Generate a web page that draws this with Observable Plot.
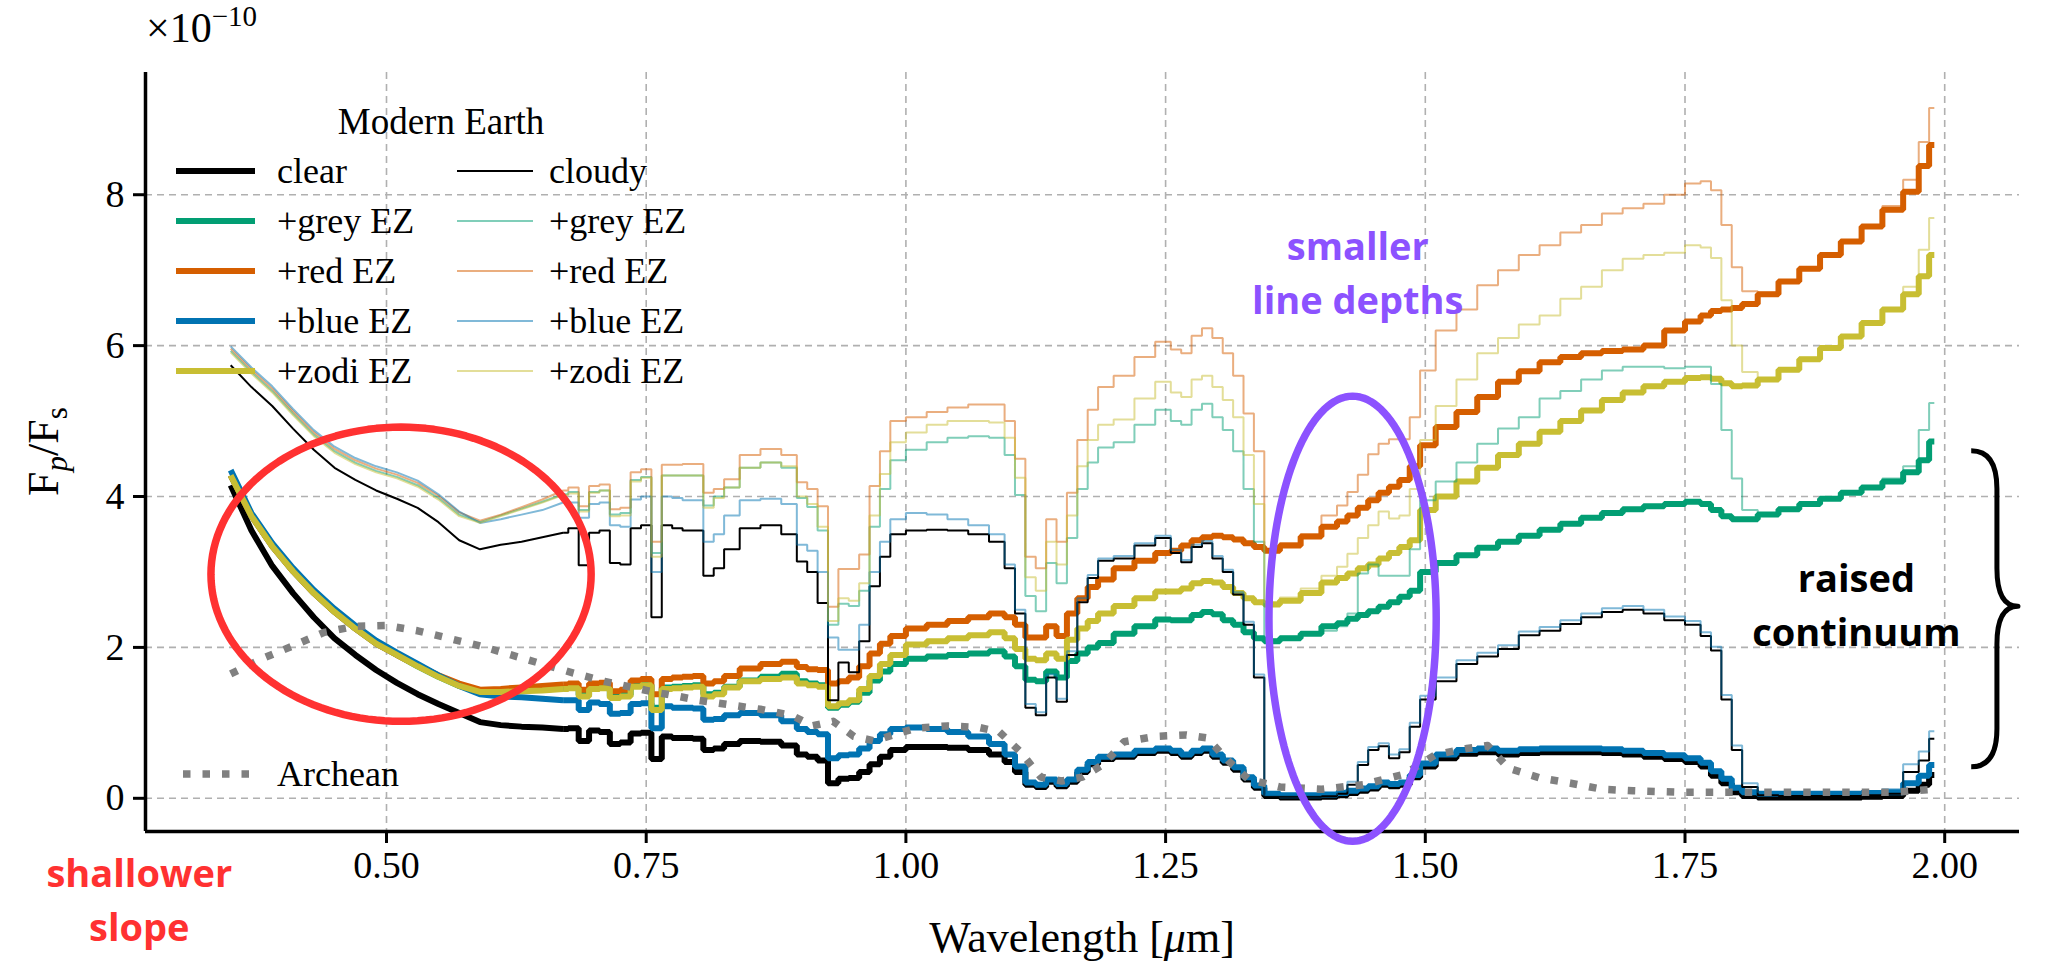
<!DOCTYPE html>
<html>
<head>
<meta charset="utf-8">
<script src="https://cdn.jsdelivr.net/npm/d3@7"></script>
<script src="https://cdn.jsdelivr.net/npm/@observablehq/plot@0.6"></script>
<style>
  html, body { margin: 0; padding: 0; background: #fff; }
  #chart svg [aria-label^="x-axis"] line, #chart svg [aria-label^="x-axis"] path,
  #chart svg [aria-label^="y-axis"] line, #chart svg [aria-label^="y-axis"] path { stroke: #000; stroke-width: 3px; }
</style>
</head>
<body>
<div id="chart"></div>
<script>
// ---------- data, Fp/Fs in units of 1e-10 ----------
const wavelength = [0.35,0.37,0.39,0.41,0.43,0.45,0.47,0.49,0.51,0.53,0.55,0.57,0.59,0.61,0.63,0.65,0.67,
0.68,0.69,0.70,0.71,0.72,0.73,0.74,0.75,0.76,0.77,0.78,0.79,0.80,0.81,0.82,0.83,
0.85,0.87,0.89,0.90,0.91,0.92,0.93,0.94,0.95,0.96,0.97,0.98,0.99,
1.01,1.03,1.05,1.07,1.09,1.10,1.11,1.12,1.13,1.14,1.15,1.16,1.17,1.18,1.19,
1.21,1.23,1.25,1.26,1.27,1.28,1.29,1.30,1.31,1.32,1.33,1.34,1.35,
1.37,1.39,1.41,1.42,1.43,1.44,1.45,1.46,1.47,1.48,1.49,1.50,
1.52,1.54,1.56,1.58,1.60,1.62,1.64,1.66,1.68,1.70,1.72,1.74,1.76,
1.77,1.78,1.79,1.80,1.81,1.83,1.85,1.87,1.89,1.91,1.93,1.95,1.97,1.98,1.99];

const clearBlack = [4.15,3.55,3.08,2.72,2.40,2.12,1.90,1.70,1.53,1.38,1.25,1.13,1.01,0.97,0.95,0.94,0.92,
0.93,0.76,0.90,0.88,0.72,0.74,0.86,0.87,0.52,0.82,0.80,0.80,0.79,0.64,0.66,0.72,
0.76,0.75,0.70,0.58,0.55,0.50,0.20,0.26,0.27,0.35,0.45,0.55,0.64,
0.68,0.68,0.67,0.64,0.58,0.48,0.35,0.18,0.15,0.22,0.16,0.22,0.35,0.45,0.52,
0.55,0.60,0.63,0.60,0.55,0.60,0.63,0.55,0.47,0.38,0.25,0.14,0.03,
0.01,0.01,0.02,0.04,0.07,0.10,0.13,0.18,0.16,0.18,0.28,0.42,
0.53,0.59,0.61,0.58,0.60,0.61,0.61,0.61,0.60,0.58,0.55,0.52,0.48,
0.42,0.30,0.20,0.08,0.03,0.01,0.01,0.01,0.01,0.01,0.02,0.03,0.10,0.18,0.31];

const clearGrey = [4.28,3.74,3.34,3.01,2.72,2.47,2.25,2.05,1.90,1.75,1.61,1.49,1.41,1.41,1.43,1.44,1.46,
1.47,1.37,1.46,1.47,1.35,1.37,1.49,1.51,1.20,1.47,1.48,1.49,1.50,1.38,1.40,1.48,
1.56,1.61,1.65,1.55,1.52,1.50,1.20,1.24,1.28,1.40,1.56,1.68,1.78,
1.85,1.88,1.90,1.92,1.95,1.88,1.75,1.57,1.55,1.68,1.60,1.82,1.92,2.00,2.06,
2.18,2.28,2.37,2.36,2.36,2.43,2.47,2.44,2.36,2.30,2.20,2.12,2.08,
2.12,2.18,2.28,2.32,2.38,2.43,2.48,2.54,2.60,2.67,2.75,3.00,
3.12,3.22,3.32,3.40,3.48,3.56,3.64,3.72,3.78,3.83,3.87,3.90,3.93,
3.90,3.82,3.74,3.70,3.70,3.76,3.83,3.90,3.97,4.05,4.12,4.20,4.32,4.48,4.73];

const clearRed = [4.28,3.74,3.34,3.01,2.72,2.47,2.25,2.05,1.90,1.76,1.63,1.52,1.44,1.45,1.47,1.49,1.51,
1.52,1.44,1.52,1.53,1.42,1.44,1.56,1.58,1.38,1.58,1.60,1.61,1.62,1.52,1.55,1.62,
1.72,1.78,1.81,1.74,1.71,1.70,1.52,1.55,1.60,1.75,1.92,2.05,2.15,
2.25,2.30,2.35,2.40,2.45,2.40,2.30,2.13,2.13,2.28,2.15,2.45,2.65,2.80,2.90,
3.05,3.15,3.25,3.28,3.35,3.42,3.46,3.48,3.46,3.43,3.38,3.33,3.28,
3.35,3.47,3.60,3.67,3.75,3.85,3.95,4.05,4.13,4.22,4.40,4.68,
4.92,5.12,5.32,5.52,5.66,5.78,5.85,5.90,5.93,5.95,6.00,6.20,6.32,
6.40,6.46,6.48,6.50,6.55,6.68,6.85,7.02,7.20,7.38,7.58,7.80,8.04,8.38,8.66];

const clearBlue = [4.35,3.78,3.38,3.05,2.76,2.51,2.29,2.09,1.93,1.78,1.63,1.49,1.38,1.35,1.34,1.32,1.30,
1.30,1.17,1.27,1.25,1.12,1.13,1.25,1.26,0.93,1.22,1.20,1.20,1.19,1.04,1.05,1.10,
1.13,1.10,1.02,0.92,0.88,0.85,0.53,0.57,0.58,0.66,0.76,0.85,0.92,
0.94,0.92,0.88,0.82,0.72,0.58,0.42,0.21,0.18,0.25,0.19,0.25,0.38,0.48,0.55,
0.58,0.63,0.66,0.63,0.58,0.63,0.66,0.58,0.50,0.41,0.28,0.17,0.06,
0.04,0.04,0.05,0.07,0.10,0.13,0.16,0.21,0.19,0.21,0.31,0.46,
0.58,0.64,0.66,0.63,0.65,0.66,0.66,0.66,0.65,0.63,0.60,0.57,0.53,
0.47,0.36,0.26,0.14,0.08,0.06,0.06,0.06,0.06,0.06,0.07,0.08,0.20,0.30,0.44];

const clearZodi = [4.28,3.74,3.34,3.01,2.72,2.47,2.25,2.05,1.90,1.75,1.61,1.49,1.41,1.41,1.42,1.43,1.45,
1.46,1.35,1.45,1.46,1.33,1.35,1.48,1.50,1.17,1.45,1.46,1.47,1.48,1.35,1.38,1.47,
1.55,1.58,1.60,1.52,1.50,1.48,1.22,1.26,1.30,1.45,1.62,1.78,1.90,
2.04,2.08,2.12,2.16,2.20,2.12,1.98,1.85,1.83,1.92,1.85,2.10,2.25,2.35,2.45,
2.55,2.65,2.74,2.74,2.78,2.85,2.88,2.86,2.80,2.72,2.65,2.60,2.57,
2.62,2.72,2.86,2.92,2.98,3.05,3.10,3.18,3.25,3.33,3.42,3.82,
4.00,4.20,4.38,4.55,4.70,4.86,5.00,5.14,5.28,5.38,5.46,5.52,5.57,
5.58,5.56,5.50,5.46,5.47,5.55,5.68,5.82,5.97,6.12,6.30,6.48,6.68,6.92,7.20];

const cloudyBlack = [5.74,5.45,5.20,4.90,4.62,4.38,4.22,4.08,3.97,3.85,3.66,3.42,3.30,3.36,3.40,3.46,3.52,
3.58,3.09,3.52,3.55,3.12,3.10,3.58,3.62,2.40,3.62,3.58,3.55,3.55,2.95,3.05,3.30,
3.58,3.62,3.50,3.14,3.00,2.59,1.30,1.80,1.67,2.08,2.81,3.20,3.50,
3.55,3.56,3.55,3.50,3.40,3.05,2.45,1.20,1.10,1.60,1.28,1.90,2.60,2.92,3.15,
3.18,3.35,3.45,3.25,3.13,3.33,3.38,3.18,3.00,2.70,2.30,1.60,0.02,
0.02,0.02,0.03,0.06,0.18,0.44,0.64,0.69,0.53,0.61,0.95,1.31,
1.55,1.78,1.88,1.98,2.16,2.22,2.31,2.40,2.47,2.50,2.45,2.36,2.30,
2.15,1.96,1.31,0.64,0.15,0.04,0.03,0.03,0.03,0.03,0.04,0.06,0.35,0.50,0.79];

const cloudyGrey = [5.93,5.65,5.40,5.10,4.82,4.60,4.45,4.34,4.26,4.15,3.98,3.76,3.66,3.75,3.84,3.93,4.03,
4.06,3.82,4.06,4.08,3.76,3.78,4.22,4.26,3.25,4.28,4.28,4.28,4.28,3.88,4.00,4.12,
4.38,4.45,4.38,3.98,3.86,3.55,2.30,2.58,2.55,2.75,3.60,4.10,4.48,
4.62,4.72,4.78,4.80,4.78,4.55,4.02,2.68,2.48,3.12,2.85,3.45,4.10,4.45,4.65,
4.72,4.95,5.15,5.00,4.95,5.15,5.23,5.05,4.88,4.60,4.10,3.40,2.10,
2.14,2.20,2.22,2.28,2.45,2.98,3.10,2.95,2.95,2.95,3.30,3.95,
4.20,4.45,4.70,4.90,5.05,5.30,5.40,5.55,5.67,5.72,5.72,5.70,5.72,
5.72,5.49,4.88,4.24,3.82,3.78,3.85,3.92,3.99,4.07,4.14,4.24,4.40,4.88,5.24];

const cloudyRed = [5.96,5.68,5.43,5.13,4.85,4.63,4.48,4.37,4.29,4.18,4.01,3.79,3.68,3.76,3.86,3.96,4.08,
4.12,3.87,4.14,4.16,3.83,3.85,4.32,4.36,3.40,4.42,4.42,4.43,4.43,4.05,4.10,4.23,
4.55,4.63,4.55,4.19,4.10,3.87,2.54,3.04,3.04,3.23,4.14,4.60,5.00,
5.05,5.12,5.18,5.22,5.22,5.00,4.50,3.20,3.05,3.70,3.40,4.05,4.75,5.15,5.45,
5.60,5.85,6.05,5.95,5.90,6.13,6.23,6.10,5.90,5.60,5.10,4.60,3.30,
3.38,3.50,3.75,3.88,4.06,4.29,4.56,4.70,4.76,4.76,5.05,5.67,
6.20,6.48,6.80,7.00,7.20,7.33,7.50,7.60,7.75,7.82,7.88,8.00,8.15,
8.18,8.06,7.60,7.04,6.72,6.70,6.87,7.04,7.22,7.40,7.60,7.85,8.20,8.70,9.15];

const cloudyBlue = [5.99,5.71,5.46,5.16,4.88,4.66,4.51,4.40,4.32,4.21,4.03,3.80,3.65,3.70,3.76,3.82,3.92,
3.92,3.72,3.90,3.92,3.62,3.60,3.96,4.00,3.00,4.00,3.98,3.95,3.95,3.40,3.50,3.75,
3.95,3.97,3.90,3.36,3.28,3.00,2.13,1.97,1.97,2.30,3.00,3.40,3.70,
3.78,3.76,3.70,3.62,3.50,3.10,2.50,1.25,1.14,1.64,1.32,1.95,2.65,2.96,3.18,
3.21,3.38,3.48,3.29,3.16,3.36,3.41,3.21,3.03,2.73,2.34,1.64,0.04,
0.04,0.04,0.05,0.10,0.22,0.48,0.68,0.73,0.58,0.65,1.00,1.36,
1.60,1.83,1.93,2.03,2.21,2.27,2.36,2.45,2.52,2.55,2.50,2.41,2.35,
2.20,2.01,1.37,0.70,0.20,0.08,0.07,0.07,0.07,0.07,0.08,0.12,0.45,0.62,0.89];

const cloudyZodi = [5.91,5.63,5.38,5.08,4.80,4.58,4.43,4.32,4.24,4.13,3.96,3.74,3.65,3.74,3.83,3.92,4.02,
4.04,3.80,4.05,4.08,3.74,3.75,4.20,4.25,3.20,4.28,4.28,4.28,4.28,3.85,3.98,4.12,
4.38,4.45,4.40,4.00,3.90,3.60,2.35,2.65,2.62,2.85,3.75,4.30,4.72,
4.85,4.95,5.00,5.00,4.98,4.78,4.25,2.93,2.75,3.40,3.10,3.75,4.40,4.75,4.95,
5.02,5.30,5.52,5.38,5.32,5.55,5.60,5.45,5.28,5.05,4.55,3.90,2.60,
2.66,2.78,2.95,3.07,3.24,3.45,3.62,3.80,3.71,3.75,4.10,4.75,
5.20,5.55,5.90,6.10,6.28,6.40,6.62,6.78,7.00,7.15,7.20,7.23,7.33,
7.30,7.16,6.60,6.00,5.65,5.57,5.70,5.84,5.99,6.14,6.32,6.50,6.78,7.27,7.69];

const archeanWavelength = [0.35,0.38,0.41,0.44,0.47,0.50,0.53,0.56,0.59,0.62,0.65,0.68,0.71,0.74,0.76,0.77,0.80,0.83,0.86,0.89,0.91,0.93,0.95,0.97,0.99,1.01,1.04,1.07,1.09,1.11,1.13,1.15,1.17,1.19,1.21,1.24,1.27,1.29,1.31,1.33,1.36,1.40,1.44,1.48,1.51,1.54,1.56,1.58,1.61,1.64,1.67,1.70,1.75,1.80,1.85,1.90,1.95,1.99];
const archeanFlux = [1.65,1.85,2.02,2.20,2.28,2.29,2.22,2.12,2.02,1.90,1.78,1.66,1.55,1.46,1.40,1.38,1.30,1.24,1.18,1.10,0.96,1.02,0.82,0.76,0.85,0.93,0.96,0.94,0.88,0.62,0.28,0.23,0.28,0.45,0.75,0.82,0.84,0.80,0.50,0.25,0.15,0.12,0.18,0.32,0.58,0.66,0.70,0.40,0.27,0.20,0.12,0.10,0.08,0.08,0.08,0.08,0.08,0.12];

const xTicks = [0.50, 0.75, 1.00, 1.25, 1.50, 1.75, 2.00];
const yTicks = [0, 2, 4, 6, 8];
const xDomain = [0.268, 2.072];
const yDomain = [-0.44, 9.62];
const smoothUpTo = 0.67;   // blue continuum drawn smooth, absorption region drawn as spectral bins

const legendTitle = "Modern Earth";
const clearSeries = [
  {label: "clear",    values: clearBlack, color: "#000000"},
  {label: "+grey EZ", values: clearGrey,  color: "#029e73"},
  {label: "+red EZ",  values: clearRed,   color: "#d55e00"},
  {label: "+blue EZ", values: clearBlue,  color: "#0173b2"},
  {label: "+zodi EZ", values: clearZodi,  color: "#c8be33"}
];
const cloudySeries = [
  {label: "cloudy",   values: cloudyBlack, color: "#000000", opacity: 1},
  {label: "+grey EZ", values: cloudyGrey,  color: "#029e73", opacity: 0.5},
  {label: "+red EZ",  values: cloudyRed,   color: "#d55e00", opacity: 0.5},
  {label: "+blue EZ", values: cloudyBlue,  color: "#0173b2", opacity: 0.5},
  {label: "+zodi EZ", values: cloudyZodi,  color: "#c8be33", opacity: 0.5}
];
const archeanLabel = "Archean";
const archeanColor = "#808080";

// annotations (in data coordinates)
const annotationTexts = [
  {x: 0.262, y: -1.31, text: "shallower\nslope", color: "#ff3131"},
  {x: 1.435, y: 7.00, text: "smaller\nline depths", color: "#8c52ff"},
  {x: 1.915, y: 2.61, text: "raised\ncontinuum", color: "#000000"}
];
const annotationEllipses = [
  {cx: 0.514, cy: 2.97, rx: 0.183, ry: 1.95, color: "#ff3131"},
  {cx: 1.430, cy: 2.38, rx: 0.0805, ry: 2.95, color: "#8c52ff"}
];
const brace = {x0: 2.026, x1: 2.071, yTop: 4.60, yBottom: 0.41, yMid: 2.54};

// ---------- drawing ----------
const SERIF = "'Liberation Serif', 'Times New Roman', serif";
const SANS = "'Open Sans', 'Noto Sans', sans-serif";
const THICK = 6, THIN = 2;

const toRows = vals => wavelength.map((w, i) => ({w, f: vals[i]}));
const smoothPart = vals => toRows(vals).filter(d => d.w <= smoothUpTo);
const binnedPart = vals => toRows(vals).filter(d => d.w >= smoothUpTo);
const archeanRows = archeanWavelength.map((w, i) => ({w, f: archeanFlux[i]}));
const ellipseRows = e => d3.range(0, 145).map(k => {
  const t = 2 * Math.PI * k / 144;
  return {x: e.cx + e.rx * Math.cos(t), y: e.cy + e.ry * Math.sin(t)};
});

function spectrumMarks(s, width, opacity) {
  const opts = {x: "w", y: "f", stroke: s.color, strokeOpacity: opacity, strokeWidth: width, strokeLinejoin: "miter", strokeLinecap: "butt"};
  return [
    Plot.line(smoothPart(s.values), {...opts, curve: "linear"}),
    Plot.line(binnedPart(s.values), {...opts, curve: "step"})
  ];
}

function braceMark(index, scales) {
  const xs = scales.x(brace.x0), xt = scales.x(brace.x1);
  const xsp = xs + 0.55 * (xt - xs);
  const yt = scales.y(brace.yTop), yb = scales.y(brace.yBottom), ym = scales.y(brace.yMid);
  const r = 38;
  const p = `M${xs},${yt} Q${xsp},${yt} ${xsp},${yt + r} L${xsp},${ym - r} Q${xsp},${ym} ${xt},${ym}` +
            ` Q${xsp},${ym} ${xsp},${ym + r} L${xsp},${yb - r} Q${xsp},${yb} ${xs},${yb}`;
  return d3.create("svg:path").attr("d", p).attr("fill", "none").attr("stroke", "#000")
    .attr("stroke-width", 5).attr("stroke-linejoin", "round").node();
}

function textMark(index, scales, values, dimensions) {
  const g = d3.create("svg:g").attr("font-family", SERIF).attr("fill", "#000");
  const ml = dimensions.marginLeft, mt = dimensions.marginTop;
  const W = dimensions.width, H = dimensions.height;
  // multiplier
  const t = g.append("text").attr("x", ml + 1).attr("y", 42).attr("font-size", 42).attr("text-anchor", "start");
  t.append("tspan").text("×10");
  t.append("tspan").attr("dy", -16).attr("font-size", 29).text("−10");
  // y label
  const yl = g.append("text").attr("transform", `translate(58,${(mt + (H - dimensions.marginBottom)) / 2}) rotate(-90)`)
    .attr("text-anchor", "middle").attr("font-size", 44);
  yl.append("tspan").text("F");
  yl.append("tspan").attr("dy", 9).attr("font-size", 31).attr("font-style", "italic").text("p");
  yl.append("tspan").attr("dy", -9).text("/F");
  yl.append("tspan").attr("dy", 9).attr("font-size", 31).text("s");
  // x label
  const xl = g.append("text").attr("x", ml + (W - ml - dimensions.marginRight) / 2).attr("y", H - 14)
    .attr("text-anchor", "middle").attr("font-size", 44);
  xl.append("tspan").text("Wavelength [");
  xl.append("tspan").attr("font-style", "italic").text("μ");
  xl.append("tspan").text("m]");
  return g.node();
}

function legendMark(index, scales, values, dimensions) {
  const g = d3.create("svg:g").attr("font-family", SERIF).attr("fill", "#000").attr("text-anchor", "start");
  const ml = dimensions.marginLeft, mt = dimensions.marginTop;
  g.append("text").attr("x", ml + 296).attr("y", mt + 49).attr("text-anchor", "middle")
    .attr("dominant-baseline", "central").attr("font-size", 37).text(legendTitle);
  clearSeries.forEach((s, i) => {
    const y = mt + 99 + 50 * i;
    g.append("line").attr("x1", ml + 31).attr("x2", ml + 110).attr("y1", y).attr("y2", y)
      .attr("stroke", s.color).attr("stroke-width", THICK);
    g.append("text").attr("x", ml + 132).attr("y", y).attr("dominant-baseline", "central")
      .attr("text-anchor", "start").attr("font-size", 36).text(s.label);
  });
  cloudySeries.forEach((s, i) => {
    const y = mt + 99 + 50 * i;
    g.append("line").attr("x1", ml + 312).attr("x2", ml + 388).attr("y1", y).attr("y2", y)
      .attr("stroke", s.color).attr("stroke-opacity", s.opacity).attr("stroke-width", THIN);
    g.append("text").attr("x", ml + 404).attr("y", y).attr("dominant-baseline", "central")
      .attr("text-anchor", "start").attr("font-size", 36).text(s.label);
  });
  const ya = mt + 702;
  g.append("line").attr("x1", ml + 38).attr("x2", ml + 112).attr("y1", ya).attr("y2", ya)
    .attr("stroke", archeanColor).attr("stroke-width", 7.5).attr("stroke-dasharray", "7.5,12");
  g.append("text").attr("x", ml + 132).attr("y", ya).attr("dominant-baseline", "central")
    .attr("text-anchor", "start").attr("font-size", 36).text(archeanLabel);
  return g.node();
}

const grid = {stroke: "#b0b0b0", strokeWidth: 1.6, strokeDasharray: "7,5"};

const chart = Plot.plot({
  width: 2048,
  height: 966,
  marginLeft: 145,
  marginRight: 29,
  marginTop: 72,
  marginBottom: 135,
  style: {background: "white", color: "black", fontFamily: SERIF, fontSize: "38px", overflow: "visible"},
  x: {domain: xDomain, ticks: xTicks, tickFormat: d => d.toFixed(2), tickSize: 12, tickPadding: 8, label: null},
  y: {domain: yDomain, ticks: yTicks, tickFormat: d => String(d), tickSize: 12, tickPadding: 9, label: null},
  marks: [
    Plot.ruleX(xTicks, grid),
    Plot.ruleY(yTicks, grid),
    ...clearSeries.flatMap(s => spectrumMarks(s, THICK, 1)),
    ...cloudySeries.flatMap(s => spectrumMarks(s, THIN, s.opacity)),
    Plot.line(archeanRows, {x: "w", y: "f", stroke: archeanColor, strokeWidth: 7.5, strokeDasharray: "7.5,12", strokeLinecap: "butt"}),
    Plot.ruleX([xDomain[0]], {stroke: "#000", strokeWidth: 3.5}),
    Plot.ruleY([yDomain[0]], {stroke: "#000", strokeWidth: 3.5}),
    ...annotationEllipses.map(e => Plot.line(ellipseRows(e), {x: "x", y: "y", stroke: e.color, strokeWidth: 7.5})),
    Plot.text(annotationTexts, {x: "x", y: "y", text: "text", fill: d => d.color, fontFamily: SANS, fontWeight: 700, fontSize: 38, lineHeight: 1.42}),
    braceMark,
    textMark,
    legendMark
  ]
});
document.getElementById("chart").appendChild(chart);
</script>
</body>
</html>
